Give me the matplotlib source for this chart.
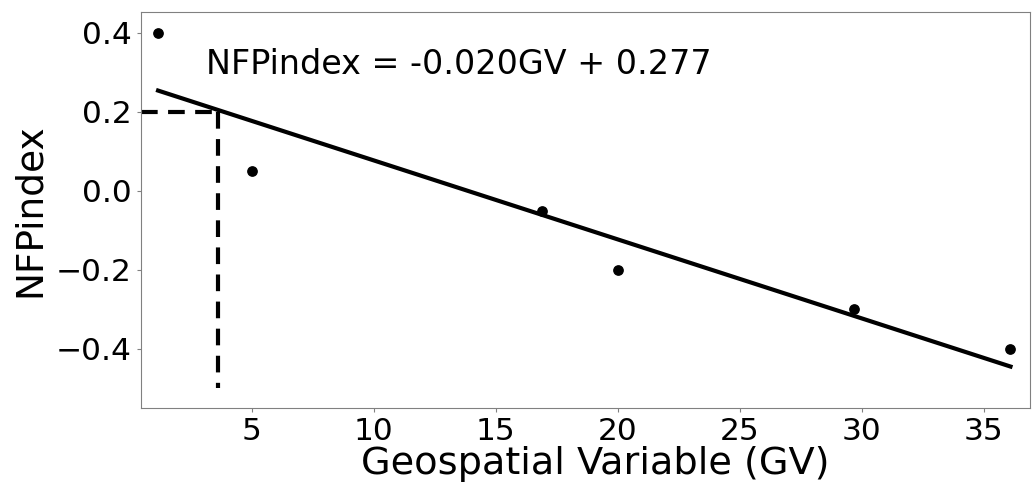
import matplotlib
matplotlib.use("Agg")
import matplotlib.pyplot as plt
import numpy as np

# data
gv = [1.15, 5.0, 16.9, 20.0, 29.7, 36.1]
nfp = [0.40, 0.05, -0.05, -0.20, -0.30, -0.40]
slope, intercept = -0.020, 0.277
gv_mark = 3.6
nfp_mark = 0.2

fig = plt.figure(figsize=(10.36, 4.88), dpi=100)
ax = fig.add_axes([141 / 1036, 1 - 408 / 488, (1030 - 141) / 1036, (408 - 12) / 488])

ax.scatter(gv, nfp, s=45, color="black", zorder=3)
xs = np.array([min(gv), max(gv)])
ax.plot(xs, slope * xs + intercept, color="black", lw=3)

ax.set_xlim(0.45, 36.9)
ax.set_ylim(-0.55, 0.453)
ax.plot([0.45, gv_mark], [nfp_mark, nfp_mark], color="black", lw=3, ls=(0, (4, 2.5)))
ax.plot([gv_mark, gv_mark], [nfp_mark, -0.5], color="black", lw=3, ls=(0, (4, 2.5)))

ax.text(3.1, 0.32, "NFPindex = -0.020GV + 0.277", fontsize=24, va="center")

ax.set_xticks([5, 10, 15, 20, 25, 30, 35])
ax.set_yticks([-0.4, -0.2, 0.0, 0.2, 0.4])
ax.tick_params(labelsize=22.5, color="gray", length=3)
for s in ax.spines.values():
    s.set_color("gray")
ax.set_xlabel("Geospatial Variable (GV)", fontsize=27.5, labelpad=-2)
ax.xaxis.set_label_coords(0.511, -0.095, transform=ax.transAxes)
ax.xaxis.label.set_va("top")
ax.set_ylabel("NFPindex", fontsize=27, labelpad=6)

fig.savefig("out.png", dpi=100)
